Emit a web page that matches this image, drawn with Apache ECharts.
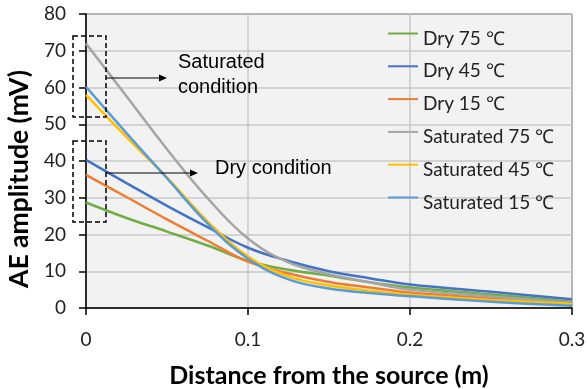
<!DOCTYPE html>
<html>
<head>
<meta charset="utf-8">
<script src="https://cdn.jsdelivr.net/npm/echarts@6/dist/echarts.min.js"></script>
<style>
  html, body { margin: 0; padding: 0; background: #fff; }
  #chart { width: 588px; height: 389px; }
</style>
</head>
<body>
<div id="chart"></div>
<script>
// 距离（m）
const distance = [0, 0.025, 0.05, 0.075, 0.1, 0.125, 0.15, 0.175, 0.2, 0.25, 0.3];
// 各工况的 AE 幅值（mV）
const dry75 = [28.7, 24.5, 20.8, 17.0, 12.8, 10.4, 8.8, 7.0, 5.6, 3.7, 1.7];
const dry45 = [40.3, 34.0, 27.8, 22.0, 16.4, 12.8, 10.0, 8.1, 6.4, 4.4, 2.4];
const dry15 = [36.2, 30.2, 24.1, 18.3, 12.6, 9.4, 7.1, 5.6, 4.2, 2.6, 1.3];
const sat75 = [72, 57.6, 43.2, 29.9, 18.9, 12.4, 9.2, 7.0, 5.0, 3.1, 1.4];
const sat45 = [58, 46.5, 35.5, 23.6, 14.0, 8.6, 6.1, 4.7, 3.6, 2.2, 1.1];
const sat15 = [60.2, 47.6, 35.3, 23.0, 13.4, 7.8, 5.3, 4.1, 3.2, 1.7, 0.6];

const seriesNames = ["Dry 75 ℃", "Dry 45 ℃", "Dry 15 ℃", "Saturated 75 ℃", "Saturated 45 ℃", "Saturated 15 ℃"];
const seriesValues = [dry75, dry45, dry15, sat75, sat45, sat15];
const colors = ["#70ad47", "#4472c4", "#ed7d31", "#a5a5a5", "#ffc000", "#5b9bd5"];

const pairs = (ys) => distance.map((x, i) => [x, ys[i]]);

let chart = echarts.init(document.getElementById("chart"));

let option = {
  animation: false,
  color: colors,
  grid: {
    left: 86,
    right: 16,
    top: 14,
    bottom: 81,
    outerBoundsMode: "none",
    show: true,
    backgroundColor: "#f2f2f2",
    borderColor: "#000",
    borderWidth: 1,
  },
  legend: {
    orient: "vertical",
    left: 383,
    top: 24,
    itemWidth: 30,
    itemHeight: 12,
    itemGap: 13.8,
    icon: "path://M0,0H30V2H0ZM0,12H0",
    textStyle: {
      fontFamily: "Lato",
      fontSize: 19,
      lineHeight: 19,
      color: "#222",
    },
    data: seriesNames,
  },
  xAxis: {
    type: "value",
    min: 0,
    max: 0.3,
    interval: 0.1,
    name: "Distance from the source (m)",
    nameLocation: "middle",
    nameGap: 55,
    nameTextStyle: {
      fontFamily: "Lato",
      fontWeight: "bold",
      fontSize: 25,
      color: "#000",
    },
    axisLine: { lineStyle: { color: "#000", width: 1.5 } },
    axisTick: { show: true, length: 7, lineStyle: { color: "#000", width: 1.5 } },
    axisLabel: {
      margin: 22,
      fontFamily: "Lato",
      fontSize: 19,
      color: "#222",
    },
    splitLine: { show: true, lineStyle: { color: "#c8c8c8", width: 1.5 } },
  },
  yAxis: {
    type: "value",
    min: 0,
    max: 80,
    interval: 10,
    name: "AE amplitude (mV)",
    nameLocation: "middle",
    nameGap: 53,
    nameTextStyle: {
      fontFamily: "Lato",
      fontWeight: "bold",
      fontSize: 26.5,
      color: "#000",
      padding: [0, 36, 0, 0],
    },
    axisLine: { show: true, lineStyle: { color: "#000", width: 1.5 } },
    axisTick: { show: true, length: 7, lineStyle: { color: "#000", width: 1.5 } },
    axisLabel: {
      margin: 20,
      fontFamily: "Lato",
      fontSize: 19,
      color: "#222",
    },
    splitLine: { show: true, lineStyle: { color: "#c8c8c8", width: 1.5 } },
  },
  series: seriesNames.map((name, i) => ({
    name: name,
    type: "line",
    data: pairs(seriesValues[i]),
    smooth: 0.4,
    symbol: "none",
    lineStyle: { width: 2.5, color: colors[i] },
    itemStyle: { color: colors[i] },
  })),
  graphic: [
    // 饱和状态框
    {
      type: "rect",
      shape: { x: 73, y: 36, width: 33, height: 81 },
      style: { fill: "none", stroke: "#000", lineWidth: 1.5, lineDash: [5, 3] },
      z: 100,
    },
    {
      type: "line",
      shape: { x1: 106, y1: 78, x2: 160, y2: 78 },
      style: { stroke: "#000", lineWidth: 1 },
      z: 100,
    },
    {
      type: "polygon",
      shape: { points: [[159, 74.5], [167, 78], [159, 81.5]] },
      style: { fill: "#000" },
      z: 100,
    },
    {
      type: "text",
      x: 178,
      y: 50,
      style: {
        text: "Saturated\ncondition",
        font: "20px 'Liberation Sans'",
        lineHeight: 25,
        fill: "#000",
      },
      z: 100,
    },
    // 干燥状态框
    {
      type: "rect",
      shape: { x: 73, y: 141, width: 33, height: 81 },
      style: { fill: "none", stroke: "#000", lineWidth: 1.5, lineDash: [5, 3] },
      z: 100,
    },
    {
      type: "line",
      shape: { x1: 106, y1: 173, x2: 191, y2: 173 },
      style: { stroke: "#000", lineWidth: 1 },
      z: 100,
    },
    {
      type: "polygon",
      shape: { points: [[190, 169.5], [198, 173], [190, 176.5]] },
      style: { fill: "#000" },
      z: 100,
    },
    {
      type: "text",
      x: 215,
      y: 168,
      style: {
        text: "Dry condition",
        font: "20px 'Liberation Sans'",
        verticalAlign: "middle",
        fill: "#000",
      },
      z: 100,
    },
  ],
};
chart.setOption(option);
</script>
</body>
</html>
